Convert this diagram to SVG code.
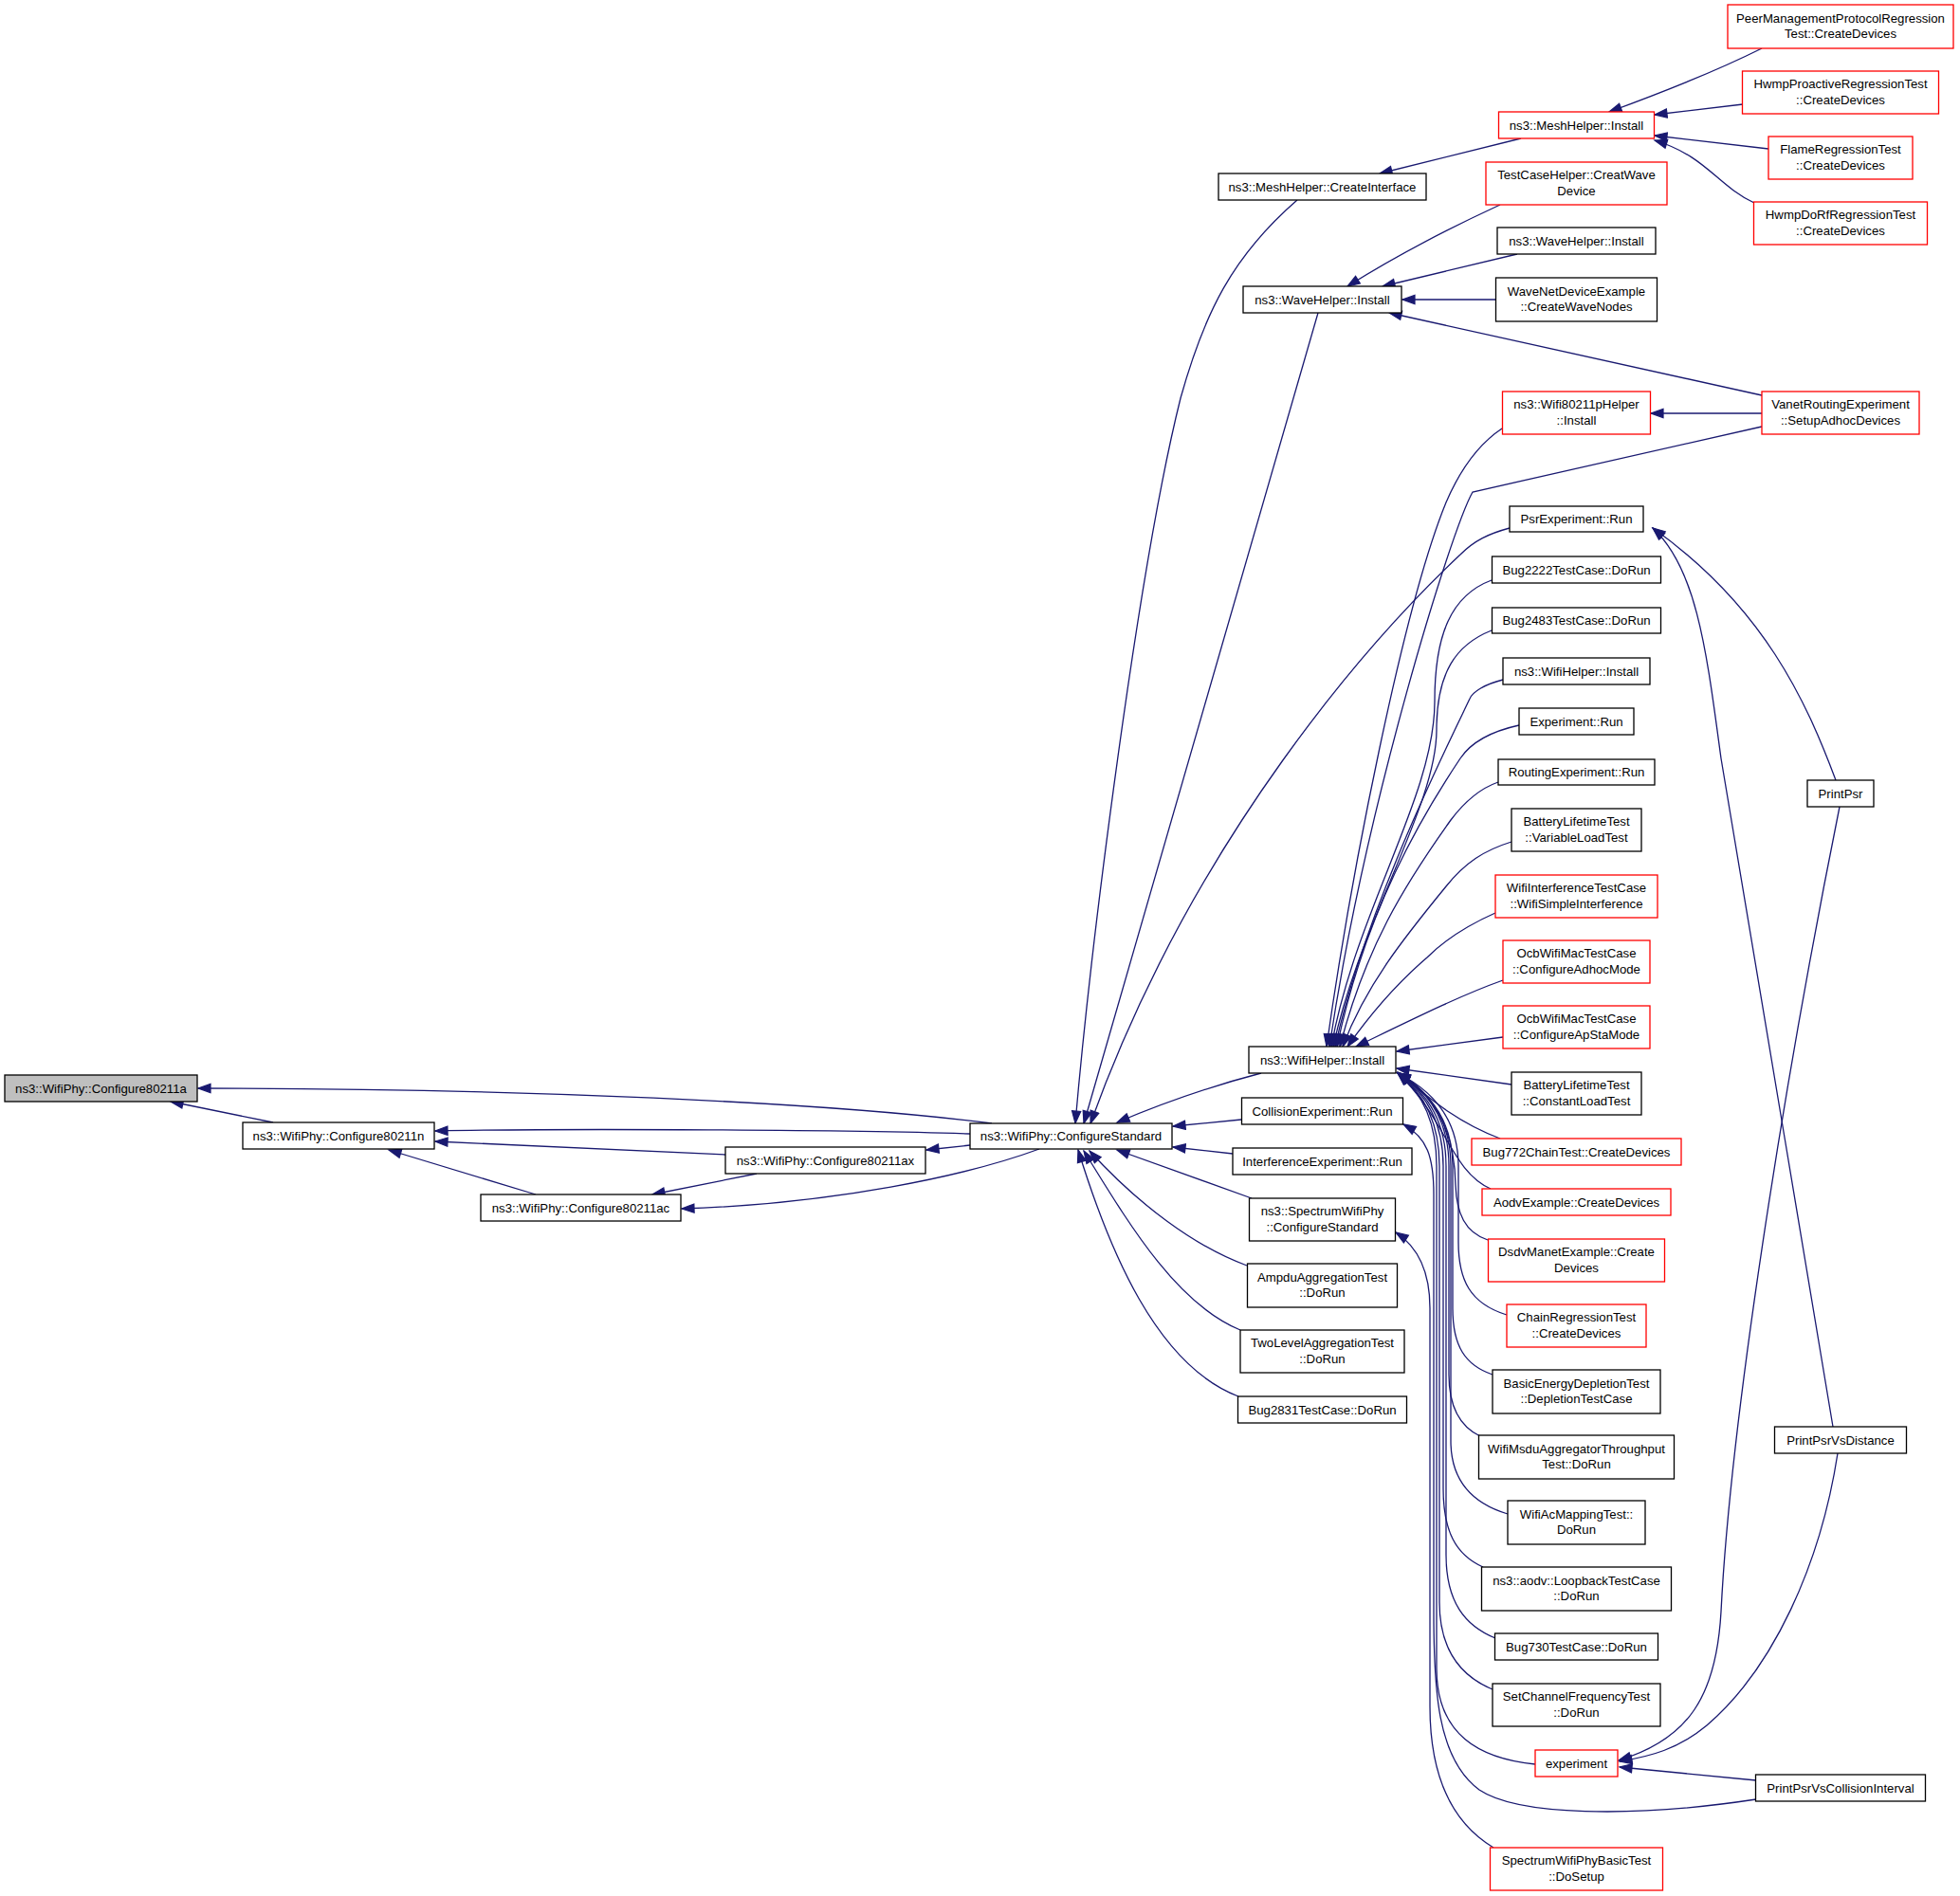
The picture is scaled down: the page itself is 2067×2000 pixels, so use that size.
<svg xmlns="http://www.w3.org/2000/svg" width="2067" height="2000" viewBox="0 0 2067 2000">
<defs>
<style>
.n rect{fill:#fff;stroke:#000;stroke-width:1.3}
.n.r rect{stroke:#ff0000}
.n.g rect{fill:#bfbfbf}
text{font-family:"Liberation Sans",Arial,Helvetica,sans-serif;font-size:13.2px;text-anchor:middle;fill:#000}
#edges path{fill:none;stroke:#191970;stroke-width:1.3;marker-end:url(#ah)}
</style>
<marker id="ah" markerUnits="userSpaceOnUse" markerWidth="16" markerHeight="12" viewBox="0 0 16 12" refX="14" refY="6" orient="auto">
<path d="M1,1.4 L14,6 L1,10.6 Z" fill="#191970" stroke="#191970" stroke-width="1.2"/>
</marker>
</defs>
<rect width="2067" height="2000" fill="#fff"/>
<g id="edges">
<path d="M288,1184 L180,1162"/>
<path d="M1046,1185 C850,1160 500,1148 209,1148"/>
<path d="M1023,1196 C900,1192 600,1190 459,1193"/>
<path d="M765,1218 L459,1204"/>
<path d="M565,1260 L410,1213"/>
<path d="M798,1238 L688,1260"/>
<path d="M1096,1212 C1020,1240 880,1270 719,1275"/>
<path d="M1023,1208 L977,1213"/>
<path d="M1368,211 C1300,270 1270,330 1245,420 C1200,600 1150,1000 1134,1185"/>
<path d="M1390,330 L1143,1185"/>
<path d="M1592,557 C1570,563 1555,570 1540,585 C1450,670 1260,880 1150,1185"/>
<path d="M1330,1132 C1280,1145 1230,1162 1178,1184"/>
<path d="M1309,1181 L1237,1188"/>
<path d="M1300,1217 L1237,1210"/>
<path d="M1320,1264 L1178,1213"/>
<path d="M1315,1335 C1260,1315 1200,1270 1149,1214"/>
<path d="M1308,1403 C1240,1375 1190,1290 1143,1214"/>
<path d="M1306,1473 C1220,1440 1170,1320 1137,1213"/>
<path d="M1604,146 L1455,183"/>
<path d="M1858,51 C1820,70 1760,95 1697,118"/>
<path d="M1838,110 L1745,121"/>
<path d="M1865,157 L1745,143"/>
<path d="M1850,214 C1810,195 1800,165 1745,148"/>
<path d="M1582,216 C1530,240 1480,265 1421,302"/>
<path d="M1600,268 L1458,302"/>
<path d="M1578,316 L1479,316"/>
<path d="M1858,417 L1465,330"/>
<path d="M1858,436 L1741,436"/>
<path d="M1584,452 C1560,468 1540,495 1525,530 C1480,640 1425,920 1399,1104"/>
<path d="M1858,450 L1553,519 C1530,560 1440,850 1402,1104"/>
<path d="M1573,612 C1530,628 1513,670 1513,740 C1513,840 1430,960 1404,1104"/>
<path d="M1573,665 C1535,680 1515,710 1515,770 C1515,850 1435,970 1406,1104"/>
<path d="M1585,717 C1565,722 1553,730 1550,737 C1520,800 1440,960 1408,1104"/>
<path d="M1602,765 C1570,772 1550,785 1540,800 C1500,860 1440,960 1410,1104"/>
<path d="M1580,825 C1560,832 1545,845 1530,865 C1480,935 1440,1000 1413,1104"/>
<path d="M1594,888 C1565,897 1545,910 1525,935 C1480,990 1440,1040 1416,1104"/>
<path d="M1577,963 C1550,975 1525,990 1505,1010 C1470,1040 1445,1070 1421,1104"/>
<path d="M1585,1034 C1540,1050 1490,1075 1430,1104"/>
<path d="M1585,1094 L1473,1109"/>
<path d="M1594,1144 L1473,1127"/>
<path d="M1582,1201 C1540,1185 1515,1165 1474,1131"/>
<path d="M1572,1254 C1530,1235 1525,1180 1474,1132"/>
<path d="M1569,1308 C1545,1300 1536,1280 1535,1250 C1534,1190 1510,1150 1474,1132"/>
<path d="M1589,1387 C1550,1375 1538,1350 1538,1310 L1538,1230 C1538,1180 1510,1150 1474,1132"/>
<path d="M1574,1450 C1545,1440 1532,1420 1532,1380 L1532,1230 C1532,1180 1505,1150 1474,1132"/>
<path d="M1561,1515 C1540,1505 1528,1485 1528,1450 L1528,1230 C1528,1180 1505,1150 1474,1132"/>
<path d="M1590,1597 C1550,1585 1530,1560 1530,1520 L1530,1230 C1530,1180 1505,1150 1474,1132"/>
<path d="M1564,1653 C1535,1640 1522,1615 1522,1570 L1522,1230 C1522,1180 1500,1150 1474,1132"/>
<path d="M1577,1728 C1545,1715 1525,1690 1525,1640 L1525,1230 C1525,1180 1502,1150 1474,1132"/>
<path d="M1574,1782 C1540,1768 1518,1740 1518,1690 L1518,1230 C1518,1180 1498,1150 1474,1132"/>
<path d="M1619,1861 C1560,1855 1515,1830 1515,1760 L1515,1230 C1515,1180 1497,1150 1474,1132"/>
<path d="M1852,1898 C1720,1918 1600,1915 1560,1888 C1515,1855 1512,1780 1512,1700 L1512,1260 C1512,1220 1505,1200 1480,1186"/>
<path d="M1575,1949 C1535,1925 1508,1880 1508,1800 L1508,1380 C1508,1340 1495,1315 1472,1300"/>
<path d="M1936,823 C1905,740 1860,640 1743,557"/>
<path d="M1933,1505 C1900,1300 1830,900 1815,800 C1800,690 1790,600 1743,557"/>
<path d="M1940,851 C1880,1150 1825,1500 1815,1700 C1810,1790 1780,1835 1707,1857"/>
<path d="M1938,1533 C1920,1650 1870,1760 1800,1820 C1770,1845 1740,1853 1708,1858"/>
<path d="M1852,1878 L1708,1864"/>
</g>
<g id="n_cfg80211a" class="n g"><rect x="5" y="1134" width="203" height="28"/><text x="106.5" y="1152.7">ns3::WifiPhy::Configure80211a</text></g>
<g id="n_cfg80211n" class="n"><rect x="256" y="1184" width="202" height="28"/><text x="357" y="1202.7">ns3::WifiPhy::Configure80211n</text></g>
<g id="n_cfg80211ax" class="n"><rect x="765" y="1210" width="211" height="28"/><text x="870.5" y="1228.7">ns3::WifiPhy::Configure80211ax</text></g>
<g id="n_cfg80211ac" class="n"><rect x="507" y="1260" width="211" height="28"/><text x="612.5" y="1278.7">ns3::WifiPhy::Configure80211ac</text></g>
<g id="n_cfgstd" class="n"><rect x="1023" y="1185" width="213" height="27"/><text x="1129.5" y="1203.2">ns3::WifiPhy::ConfigureStandard</text></g>
<g id="n_meshci" class="n"><rect x="1285" y="183" width="219" height="28"/><text x="1394.5" y="201.7">ns3::MeshHelper::CreateInterface</text></g>
<g id="n_wavei" class="n"><rect x="1311" y="302" width="167" height="28"/><text x="1394.5" y="320.7">ns3::WaveHelper::Install</text></g>
<g id="n_wifii" class="n"><rect x="1317" y="1104" width="155" height="28"/><text x="1394.5" y="1122.7">ns3::WifiHelper::Install</text></g>
<g id="n_collexp" class="n"><rect x="1309.5" y="1158" width="170" height="28"/><text x="1394.5" y="1176.7">CollisionExperiment::Run</text></g>
<g id="n_intexp" class="n"><rect x="1300" y="1211" width="189" height="28"/><text x="1394.5" y="1229.7">InterferenceExperiment::Run</text></g>
<g id="n_swpcs" class="n"><rect x="1317.5" y="1264" width="154" height="45"/><text x="1394.5" y="1282.2">ns3::SpectrumWifiPhy</text><text x="1394.5" y="1298.8">::ConfigureStandard</text></g>
<g id="n_ampdu" class="n"><rect x="1315.5" y="1333" width="158" height="46"/><text x="1394.5" y="1351.7">AmpduAggregationTest</text><text x="1394.5" y="1368.3">::DoRun</text></g>
<g id="n_twolevel" class="n"><rect x="1308" y="1403" width="173" height="45"/><text x="1394.5" y="1421.2">TwoLevelAggregationTest</text><text x="1394.5" y="1437.8">::DoRun</text></g>
<g id="n_bug2831" class="n"><rect x="1305.5" y="1473" width="178" height="28"/><text x="1394.5" y="1491.7">Bug2831TestCase::DoRun</text></g>
<g id="n_meshi" class="n r"><rect x="1580.5" y="118" width="164" height="28"/><text x="1662.5" y="136.7">ns3::MeshHelper::Install</text></g>
<g id="n_tch" class="n r"><rect x="1567" y="171" width="191" height="45"/><text x="1662.5" y="189.2">TestCaseHelper::CreatWave</text><text x="1662.5" y="205.8">Device</text></g>
<g id="n_wavei2" class="n"><rect x="1579" y="240" width="167" height="28"/><text x="1662.5" y="258.7">ns3::WaveHelper::Install</text></g>
<g id="n_wnde" class="n"><rect x="1577.5" y="293" width="170" height="46"/><text x="1662.5" y="311.7">WaveNetDeviceExample</text><text x="1662.5" y="328.3">::CreateWaveNodes</text></g>
<g id="n_w80211p" class="n r"><rect x="1584.5" y="413" width="156" height="45"/><text x="1662.5" y="431.2">ns3::Wifi80211pHelper</text><text x="1662.5" y="447.8">::Install</text></g>
<g id="n_psrexp" class="n"><rect x="1592" y="534" width="141" height="27"/><text x="1662.5" y="552.2">PsrExperiment::Run</text></g>
<g id="n_bug2222" class="n"><rect x="1573.5" y="587" width="178" height="28"/><text x="1662.5" y="605.7">Bug2222TestCase::DoRun</text></g>
<g id="n_bug2483" class="n"><rect x="1573.5" y="641" width="178" height="27"/><text x="1662.5" y="659.2">Bug2483TestCase::DoRun</text></g>
<g id="n_wifii2" class="n"><rect x="1585" y="694" width="155" height="28"/><text x="1662.5" y="712.7">ns3::WifiHelper::Install</text></g>
<g id="n_exprun" class="n"><rect x="1602" y="747" width="121" height="28"/><text x="1662.5" y="765.7">Experiment::Run</text></g>
<g id="n_routexp" class="n"><rect x="1580" y="801" width="165" height="27"/><text x="1662.5" y="819.2">RoutingExperiment::Run</text></g>
<g id="n_blvar" class="n"><rect x="1594" y="853" width="137" height="45"/><text x="1662.5" y="871.2">BatteryLifetimeTest</text><text x="1662.5" y="887.8">::VariableLoadTest</text></g>
<g id="n_wifiint" class="n r"><rect x="1577" y="923" width="171" height="45"/><text x="1662.5" y="941.2">WifiInterferenceTestCase</text><text x="1662.5" y="957.8">::WifiSimpleInterference</text></g>
<g id="n_ocbadhoc" class="n r"><rect x="1585" y="992" width="155" height="45"/><text x="1662.5" y="1010.2">OcbWifiMacTestCase</text><text x="1662.5" y="1026.8">::ConfigureAdhocMode</text></g>
<g id="n_ocbapsta" class="n r"><rect x="1585" y="1061" width="155" height="45"/><text x="1662.5" y="1079.2">OcbWifiMacTestCase</text><text x="1662.5" y="1095.8">::ConfigureApStaMode</text></g>
<g id="n_blconst" class="n"><rect x="1594" y="1131" width="137" height="45"/><text x="1662.5" y="1149.2">BatteryLifetimeTest</text><text x="1662.5" y="1165.8">::ConstantLoadTest</text></g>
<g id="n_bug772" class="n r"><rect x="1552" y="1201" width="221" height="28"/><text x="1662.5" y="1219.7">Bug772ChainTest::CreateDevices</text></g>
<g id="n_aodvex" class="n r"><rect x="1563" y="1254" width="199" height="28"/><text x="1662.5" y="1272.7">AodvExample::CreateDevices</text></g>
<g id="n_dsdv" class="n r"><rect x="1569.5" y="1307" width="186" height="45"/><text x="1662.5" y="1325.2">DsdvManetExample::Create</text><text x="1662.5" y="1341.8">Devices</text></g>
<g id="n_chain" class="n r"><rect x="1589" y="1376" width="147" height="45"/><text x="1662.5" y="1394.2">ChainRegressionTest</text><text x="1662.5" y="1410.8">::CreateDevices</text></g>
<g id="n_basicenergy" class="n"><rect x="1574" y="1445" width="177" height="46"/><text x="1662.5" y="1463.7">BasicEnergyDepletionTest</text><text x="1662.5" y="1480.3">::DepletionTestCase</text></g>
<g id="n_msdu" class="n"><rect x="1559.5" y="1514" width="206" height="46"/><text x="1662.5" y="1532.7">WifiMsduAggregatorThroughput</text><text x="1662.5" y="1549.3">Test::DoRun</text></g>
<g id="n_acmap" class="n"><rect x="1590" y="1583" width="145" height="46"/><text x="1662.5" y="1601.7">WifiAcMappingTest::</text><text x="1662.5" y="1618.3">DoRun</text></g>
<g id="n_loopback" class="n"><rect x="1562.5" y="1653" width="200" height="46"/><text x="1662.5" y="1671.7">ns3::aodv::LoopbackTestCase</text><text x="1662.5" y="1688.3">::DoRun</text></g>
<g id="n_bug730" class="n"><rect x="1576.5" y="1723" width="172" height="28"/><text x="1662.5" y="1741.7">Bug730TestCase::DoRun</text></g>
<g id="n_setchan" class="n"><rect x="1574" y="1776" width="177" height="45"/><text x="1662.5" y="1794.2">SetChannelFrequencyTest</text><text x="1662.5" y="1810.8">::DoRun</text></g>
<g id="n_experiment" class="n r"><rect x="1619" y="1846" width="87" height="28"/><text x="1662.5" y="1864.7">experiment</text></g>
<g id="n_swpbasic" class="n r"><rect x="1571.5" y="1949" width="182" height="45"/><text x="1662.5" y="1967.2">SpectrumWifiPhyBasicTest</text><text x="1662.5" y="1983.8">::DoSetup</text></g>
<g id="n_peermgmt" class="n r"><rect x="1822" y="5" width="238" height="46"/><text x="1941" y="23.7">PeerManagementProtocolRegression</text><text x="1941" y="40.3">Test::CreateDevices</text></g>
<g id="n_hwmpproact" class="n r"><rect x="1837.5" y="75" width="207" height="45"/><text x="1941" y="93.2">HwmpProactiveRegressionTest</text><text x="1941" y="109.8">::CreateDevices</text></g>
<g id="n_flame" class="n r"><rect x="1865" y="144" width="152" height="45"/><text x="1941" y="162.2">FlameRegressionTest</text><text x="1941" y="178.8">::CreateDevices</text></g>
<g id="n_hwmpdorf" class="n r"><rect x="1849.5" y="213" width="183" height="45"/><text x="1941" y="231.2">HwmpDoRfRegressionTest</text><text x="1941" y="247.8">::CreateDevices</text></g>
<g id="n_vanet" class="n r"><rect x="1858" y="413" width="166" height="45"/><text x="1941" y="431.2">VanetRoutingExperiment</text><text x="1941" y="447.8">::SetupAdhocDevices</text></g>
<g id="n_printpsr" class="n"><rect x="1906" y="823" width="70" height="28"/><text x="1941" y="841.7">PrintPsr</text></g>
<g id="n_printpsrdist" class="n"><rect x="1871.5" y="1505" width="139" height="28"/><text x="1941" y="1523.7">PrintPsrVsDistance</text></g>
<g id="n_printpsrcoll" class="n"><rect x="1851.5" y="1872" width="179" height="28"/><text x="1941" y="1890.7">PrintPsrVsCollisionInterval</text></g>
</svg>
